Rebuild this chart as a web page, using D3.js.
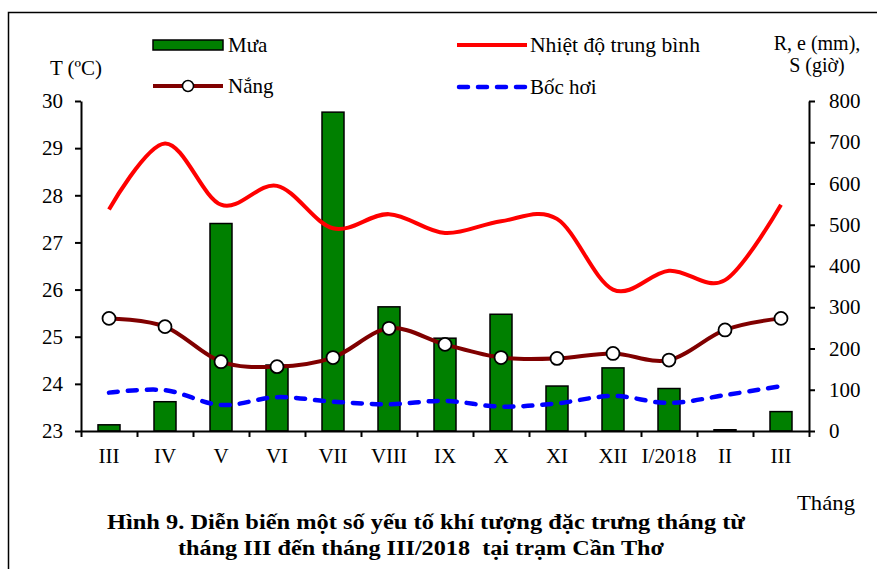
<!DOCTYPE html>
<html>
<head>
<meta charset="utf-8">
<script src="https://cdn.jsdelivr.net/npm/d3@7"></script>
<style>
  body { margin: 0; background: #fff; }
</style>
</head>
<body>
<script>
var width = 877,
    height = 569;

// data
var months = ["III", "IV", "V", "VI", "VII", "VIII", "IX", "X", "XI", "XII", "I/2018", "II", "III"];
var rain = [15, 71, 503, 160, 773, 301, 225, 283, 109, 153, 103, 3, 47];          // Mưa (mm)
var temp = [27.7, 29.1, 27.8, 28.2, 27.3, 27.6, 27.2, 27.45, 27.5, 26.0, 26.4, 26.2, 27.8]; // Nhiệt độ (°C)
var sun = [273, 253, 168, 156, 178, 249, 210, 178, 176, 188, 172, 245, 273];      // Nắng (giờ)
var evap = [93, 99, 63, 82, 71, 65, 73, 59, 67, 85, 68, 87, 109];                 // Bốc hơi (mm)
var tTicks = [23, 24, 25, 26, 27, 28, 29, 30];
var rTicks = [0, 100, 200, 300, 400, 500, 600, 700, 800];

var serif = "'Liberation Serif', 'Times New Roman', serif";

var svg = d3.select("body").append("svg")
            .attr("width", width)
            .attr("height", height)

// outer frame
svg.append("rect")
   .attr("x", 8.5).attr("y", 12.5)
   .attr("width", 900).attr("height", 600)
   .attr("fill", "none").attr("stroke", "#000").attr("stroke-width", 1.5)

var plotLeft = 81, plotRight = 809, plotTop = 101, plotBottom = 431;

var x = d3.scaleBand()
          .domain(d3.range(months.length))
          .range([plotLeft, plotRight])
var xEdge = d3.scaleLinear().domain([0, months.length]).range([plotLeft, plotRight])
var yT = d3.scaleLinear().domain([23, 30]).range([plotBottom, plotTop])
var yR = d3.scaleLinear().domain([0, 800]).range([plotBottom, plotTop])

// bars
svg.append("g").selectAll("rect")
   .data(rain)
   .enter()
   .append("rect")
   .attr("x", function(d, i){ return x(i) + x.bandwidth()/2 - 11; })
   .attr("y", function(d){ return yR(d); })
   .attr("width", 22)
   .attr("height", function(d){ return plotBottom - yR(d); })
   .attr("fill", "#008000")
   .attr("stroke", "#000")
   .attr("stroke-width", 1.5)

var cx = function(d, i){ return x(i) + x.bandwidth()/2; };
var smooth = d3.curveCardinal.tension(0);

svg.append("path")
   .attr("d", d3.line().x(cx).y(function(d){ return yR(d); }).curve(smooth)(evap))
   .attr("fill", "none").attr("stroke", "#0000FF").attr("stroke-width", 4.5)
   .attr("stroke-dasharray", "9,10").attr("stroke-linecap", "round")

svg.append("path")
   .attr("d", d3.line().x(cx).y(function(d){ return yT(d); }).curve(smooth)(temp))
   .attr("fill", "none").attr("stroke", "#FF0000").attr("stroke-width", 4)

svg.append("path")
   .attr("d", d3.line().x(cx).y(function(d){ return yR(d); }).curve(smooth)(sun))
   .attr("fill", "none").attr("stroke", "#800000").attr("stroke-width", 4)

svg.append("g").selectAll("circle")
   .data(sun)
   .enter()
   .append("circle")
   .attr("cx", cx)
   .attr("cy", function(d){ return yR(d); })
   .attr("r", 6.5)
   .attr("fill", "#fff").attr("stroke", "#000").attr("stroke-width", 1.8)

// axes
svg.append("g")
   .attr("transform", "translate(" + plotLeft + ",0)")
   .call(d3.axisLeft(yT).tickValues(tTicks).tickFormat(d3.format("d"))
           .tickSize(6).tickSizeOuter(0).tickPadding(12))
svg.append("g")
   .attr("transform", "translate(" + plotRight + ",0)")
   .call(d3.axisRight(yR).tickValues(rTicks).tickSize(6).tickSizeOuter(0).tickPadding(14))
svg.append("g")
   .attr("transform", "translate(0," + plotBottom + ")")
   .call(d3.axisBottom(xEdge).tickValues(d3.range(months.length + 1)).tickSize(6).tickSizeOuter(0).tickFormat(""))
var labelAxis = svg.append("g")
   .attr("transform", "translate(0," + plotBottom + ")")
   .call(d3.axisBottom(x).tickSize(0).tickPadding(17).tickFormat(function(i){ return months[i]; }))
labelAxis.select(".domain").remove()

svg.selectAll(".domain, .tick line").attr("stroke", "#000").attr("stroke-width", 2)
svg.selectAll(".tick text").attr("font-size", 21)

// axis titles
svg.append("text").attr("x", 76).attr("y", 75).attr("text-anchor", "middle")
   .attr("font-size", 21).text("T (ºC)")
svg.append("text").attr("x", 817).attr("y", 50).attr("text-anchor", "middle")
   .attr("font-size", 20).text("R, e (mm),")
svg.append("text").attr("x", 817).attr("y", 72).attr("text-anchor", "middle")
   .attr("font-size", 20).text("S (giờ)")
svg.append("text").attr("x", 826).attr("y", 510).attr("text-anchor", "middle")
   .attr("font-size", 21).attr("textLength", 58).attr("lengthAdjust", "spacingAndGlyphs")
   .text("Tháng")

// legend
var legend = svg.append("g")
legend.append("rect").attr("x", 153).attr("y", 40).attr("width", 70).attr("height", 10)
      .attr("fill", "#008000").attr("stroke", "#000").attr("stroke-width", 1.5)
legend.append("text").attr("x", 228).attr("y", 52).attr("font-size", 21).text("Mưa")
legend.append("line").attr("x1", 153).attr("x2", 223).attr("y1", 86).attr("y2", 86)
      .attr("stroke", "#800000").attr("stroke-width", 4)
legend.append("circle").attr("cx", 188).attr("cy", 86).attr("r", 5.5)
      .attr("fill", "#fff").attr("stroke", "#000").attr("stroke-width", 1.5)
legend.append("text").attr("x", 228).attr("y", 93).attr("font-size", 21).text("Nắng")
legend.append("line").attr("x1", 457).attr("x2", 527).attr("y1", 45).attr("y2", 45)
      .attr("stroke", "#FF0000").attr("stroke-width", 4)
legend.append("text").attr("x", 530).attr("y", 52).attr("font-size", 21)
      .attr("textLength", 170).attr("lengthAdjust", "spacingAndGlyphs").text("Nhiệt độ trung bình")
legend.append("line").attr("x1", 459).attr("x2", 527).attr("y1", 87).attr("y2", 87)
      .attr("stroke", "#0000FF").attr("stroke-width", 4.5)
      .attr("stroke-dasharray", "9,10").attr("stroke-linecap", "round")
legend.append("text").attr("x", 530).attr("y", 94).attr("font-size", 21).text("Bốc hơi")

// caption
svg.append("text").attr("x", 426).attr("y", 529).attr("text-anchor", "middle")
   .attr("font-size", 21).attr("font-weight", "bold")
   .attr("textLength", 638).attr("lengthAdjust", "spacingAndGlyphs")
   .text("Hình 9. Diễn biến một số yếu tố khí tượng đặc trưng tháng từ")
svg.append("text").attr("x", 421).attr("y", 555).attr("text-anchor", "middle")
   .attr("font-size", 21).attr("font-weight", "bold")
   .attr("textLength", 486).attr("lengthAdjust", "spacingAndGlyphs")
   .style("white-space", "pre")
   .text("tháng III đến tháng III/2018  tại trạm Cần Thơ")

svg.selectAll("text").style("font-family", serif).attr("fill", "#000")
</script>
</body>
</html>
